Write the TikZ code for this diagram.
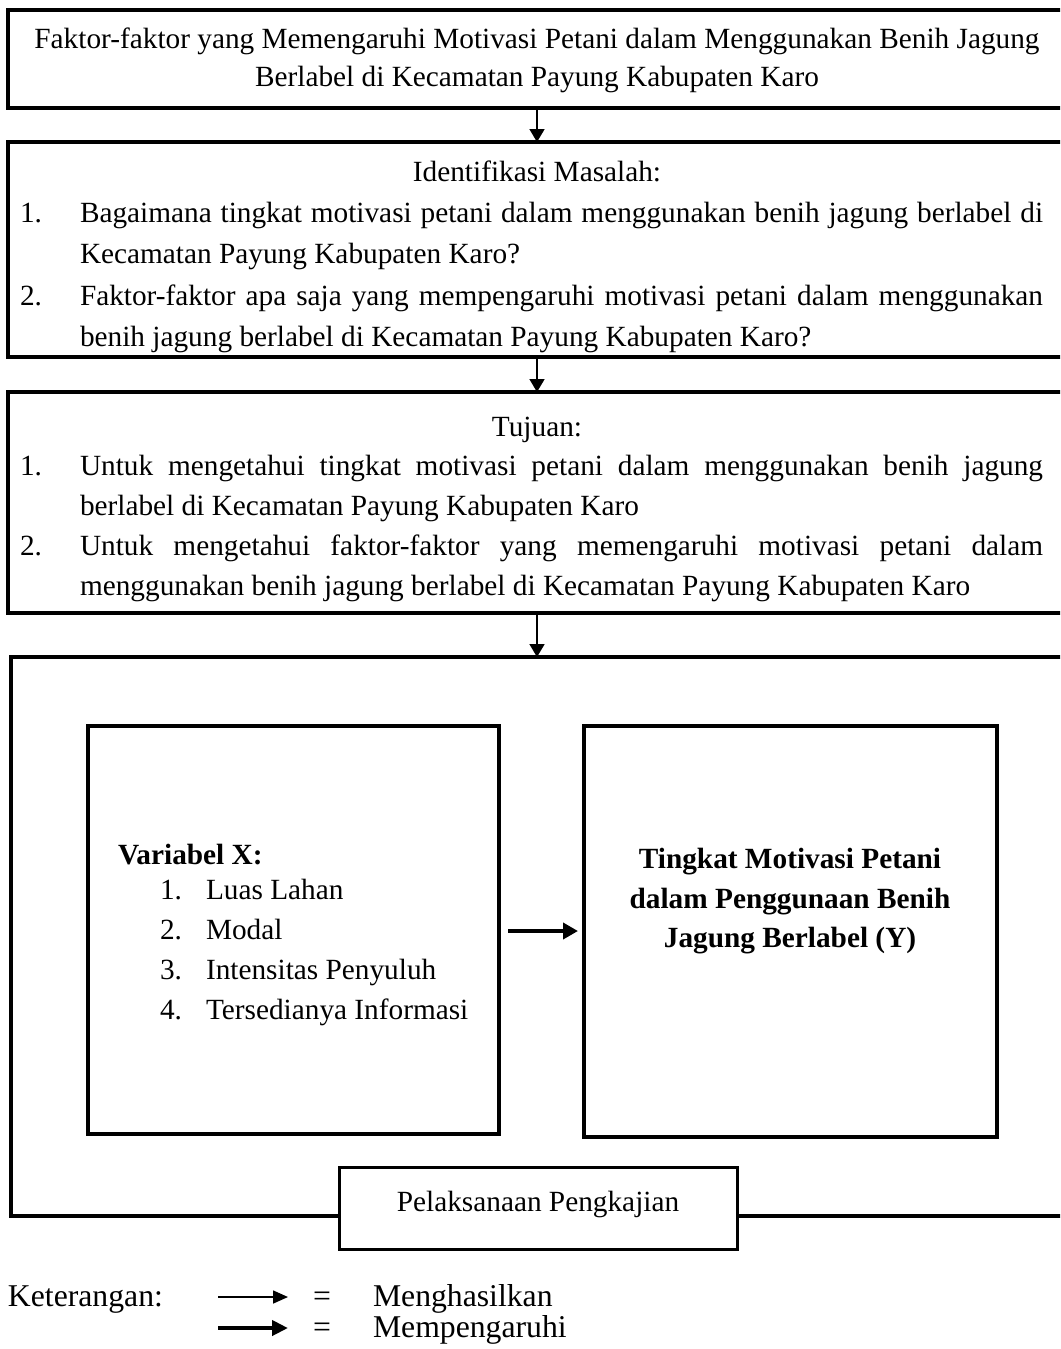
\documentclass[tikz,border=0pt]{standalone}
\usepackage{fontspec}
\setmainfont{Liberation Serif}
\usetikzlibrary{arrows.meta}
\begin{document}
\begin{tikzpicture}[x=1pt,y=-1pt,
  every node/.style={font=\fontsize{29.3}{35}\selectfont},
  box/.style={draw, line width=4pt, inner sep=0pt, outer sep=0pt, anchor=north west, rectangle},
  txt/.style={inner sep=0pt, outer sep=0pt, anchor=base},
  ltxt/.style={inner sep=0pt, outer sep=0pt, anchor=base west},
  legtxt/.style={font=\fontsize{31.7}{36}\selectfont},
  flow/.style={line width=1.8pt, -{Triangle[length=13pt,width=15pt]}},
  infl/.style={line width=4pt, -{Triangle[length=15pt,width=16pt]}},
  lflow/.style={line width=1.6pt, -{Triangle[length=15pt,width=13pt]}},
  linfl/.style={line width=4pt, -{Triangle[length=16pt,width=15pt]}},
]
\useasboundingbox (0,0) rectangle (1060,1349);
\clip (0,0) rectangle (1060,1349);

% boxes
\node[box, minimum width=1058pt, minimum height=98pt] (b1) at (8,10) {};
\node[box, minimum width=1058pt, minimum height=215pt] (b2) at (8,142) {};
\node[box, minimum width=1058pt, minimum height=221pt] (b3) at (8,392) {};
\node[box, minimum width=1058pt, minimum height=559pt] (big) at (11,657) {};
\node[box, minimum width=411pt, minimum height=408pt] (inL) at (88,726) {};
\node[box, minimum width=413pt, minimum height=411pt] (inR) at (584,726) {};

% flow arrows
\draw[flow] (b1.south) -- (b2.north);
\draw[flow] (b2.south) -- (b3.north);
\draw[flow] (b3.south) -- (b3.south |- big.north);

% box 1 text
\node[txt] (t1a) at (537,48) {Faktor-faktor yang Memengaruhi Motivasi Petani dalam Menggunakan Benih Jagung};
\node[txt] (t1b) at (537,86) {Berlabel di Kecamatan Payung Kabupaten Karo};

% box 2 text
\node[txt] (t2h) at (537,181) {Identifikasi Masalah:};
\node[ltxt] (n21) at (20,222) {1.};
\node[ltxt] (t21a) at (80,222) {\makebox[963pt][s]{Bagaimana tingkat motivasi petani dalam menggunakan benih jagung berlabel di}};
\node[ltxt] (t21b) at (80,263) {Kecamatan Payung Kabupaten Karo?};
\node[ltxt] (n22) at (20,305) {2.};
\node[ltxt] (t22a) at (80,305) {\makebox[963pt][s]{Faktor-faktor apa saja yang mempengaruhi motivasi petani dalam menggunakan}};
\node[ltxt] (t22b) at (80,346) {benih jagung berlabel di Kecamatan Payung Kabupaten Karo?};

% box 3 text
\node[txt] (t3h) at (537,436) {Tujuan:};
\node[ltxt] (n31) at (20,475) {1.};
\node[ltxt] (t31a) at (80,475) {\makebox[963pt][s]{Untuk mengetahui tingkat motivasi petani dalam menggunakan benih jagung}};
\node[ltxt] (t31b) at (80,515) {berlabel di Kecamatan Payung Kabupaten Karo};
\node[ltxt] (n32) at (20,555) {2.};
\node[ltxt] (t32a) at (80,555) {\makebox[963pt][s]{Untuk mengetahui faktor-faktor yang memengaruhi motivasi petani dalam}};
\node[ltxt] (t32b) at (80,595) {menggunakan benih jagung berlabel di Kecamatan Payung Kabupaten Karo};

% inner left text
\node[ltxt, font=\fontsize{29.3}{35}\selectfont\bfseries] (vx) at (118,864) {Variabel X:};
\node[ltxt] (x1n) at (160,899) {1.};
\node[ltxt] (x1) at (206,899) {Luas Lahan};
\node[ltxt] (x2n) at (160,939) {2.};
\node[ltxt] (x2) at (206,939) {Modal};
\node[ltxt] (x3n) at (160,979) {3.};
\node[ltxt] (x3) at (206,979) {Intensitas Penyuluh};
\node[ltxt] (x4n) at (160,1019) {4.};
\node[ltxt] (x4) at (206,1019) {Tersedianya Informasi};

% inner right text
\node[txt, font=\fontsize{29.3}{35}\selectfont\bfseries] (y1) at (790,868) {Tingkat Motivasi Petani};
\node[txt, font=\fontsize{29.3}{35}\selectfont\bfseries] (y2) at (790,908) {dalam Penggunaan Benih};
\node[txt, font=\fontsize{29.3}{35}\selectfont\bfseries] (y3) at (790,947) {Jagung Berlabel (Y)};

% influence arrow
\coordinate (a1) at (508,931);
\coordinate (a2) at (578,931);
\draw[infl] (a1) -- (a2);

% Pelaksanaan box
\node[box, line width=3pt, fill=white, minimum width=398pt, minimum height=82pt] (pk) at (339,1167) {};
\node[txt] (pkt) at (pk.center |- 0,1211) {Pelaksanaan Pengkajian};

% legend
\node[ltxt, legtxt] (ket) at (8,1306) {Keterangan:};
\coordinate (l1a) at (218,1297);
\coordinate (l1b) at (288,1297);
\draw[lflow] (l1a) -- (l1b);
\node[txt, legtxt] (eq1) at (322,1306) {=};
\node[ltxt, legtxt] (m1) at (373,1306) {Menghasilkan};
\coordinate (l2a) at (218,1328);
\coordinate (l2b) at (288,1328);
\draw[linfl] (l2a) -- (l2b);
\node[txt, legtxt] (eq2) at (322,1337) {=};
\node[ltxt, legtxt] (m2) at (373,1337) {Mempengaruhi};
\end{tikzpicture}
\end{document}
